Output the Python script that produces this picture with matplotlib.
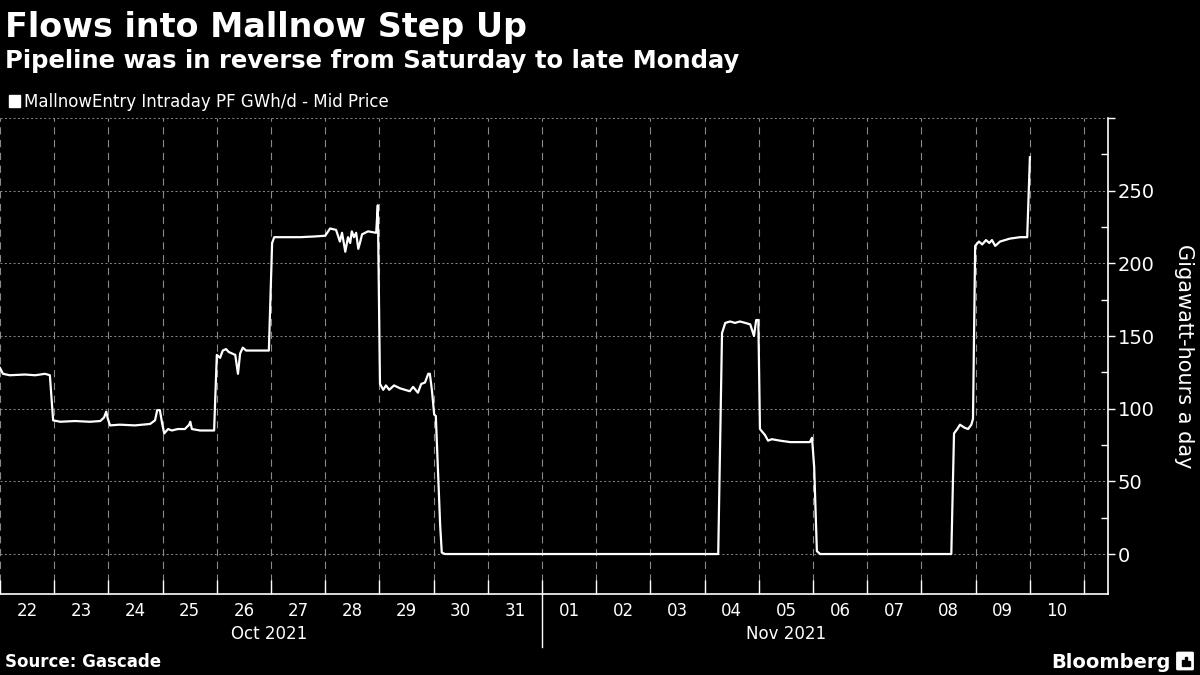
import matplotlib
matplotlib.use('Agg')
import matplotlib.pyplot as plt
import matplotlib.dates as mdates
from matplotlib.patches import Rectangle, FancyBboxPatch
import pandas as pd

# days since 22 Oct 2021 00:00 and flow in GWh/d
flow_days = [0.00, 0.055, 0.18, 0.46, 0.65, 0.83, 0.92, 0.98, 1.11, 1.38, 1.66, 1.85, 1.92, 1.96, 1.99,
             2.03, 2.21, 2.49, 2.77, 2.86, 2.90, 2.95, 2.99, 3.03, 3.10, 3.17, 3.28, 3.41, 3.49, 3.51,
             3.54, 3.69, 3.95, 4.00, 4.06, 4.11, 4.17, 4.22, 4.28, 4.34, 4.39, 4.43, 4.48, 4.54, 4.70,
             4.96, 5.02, 5.06, 5.26, 5.54, 5.81, 6.00, 6.09, 6.20, 6.27, 6.31, 6.37, 6.42, 6.46, 6.49,
             6.53, 6.57, 6.61, 6.64, 6.68, 6.79, 6.94, 6.97, 7.01, 7.07, 7.12, 7.18, 7.27, 7.38, 7.56,
             7.62, 7.71, 7.77, 7.84, 7.90, 7.93, 7.97, 8.01, 8.04, 8.12, 8.15, 8.21,
             13.25, 13.32, 13.38, 13.47, 13.56, 13.65, 13.75, 13.84, 13.91, 13.95, 13.99, 14.02, 14.11,
             14.17, 14.24, 14.39, 14.58, 14.76, 14.94, 14.98, 15.02, 15.07, 15.13,
             17.55, 17.60, 17.66, 17.71, 17.79, 17.86, 17.92, 17.95, 17.99, 18.06, 18.12, 18.19, 18.25,
             18.30, 18.36, 18.45, 18.63, 18.82, 18.95, 19.00]
flow_gwh = [128, 124, 123, 123.5, 123, 124, 123, 92, 91, 91.5, 91, 91.5, 94, 98, 93,
            88.5, 89, 88.5, 89.5, 92, 99, 99, 90, 83, 86, 85, 86, 86, 89, 91,
            86, 85, 85, 137, 135, 140, 141, 139, 138, 137, 124, 138, 142, 140, 140,
            140, 214, 218, 218, 218, 218.5, 219, 224, 223, 215, 221, 208, 218, 214, 222,
            218, 221, 210, 214, 220, 222, 221, 240, 117, 113, 116, 113, 116, 114, 112,
            115, 111, 117, 118, 124, 124, 112, 96, 95, 20, 1, 0,
            0, 152, 159, 160, 159, 160, 159, 158, 150, 161, 161, 86, 82,
            78, 79, 78, 77, 77, 77, 80, 60, 2, 0,
            0, 83, 86, 89, 87, 86, 89, 93, 212, 215, 213, 216, 214,
            216, 212, 215, 217, 218, 218, 273]

start = pd.Timestamp('2021-10-22')
times = start + pd.to_timedelta(flow_days, unit='D')
end = start + pd.Timedelta(days=20.44)
nov1 = pd.Timestamp('2021-11-01')

fig = plt.figure(figsize=(12, 6.75), dpi=100, facecolor='black')
ax = fig.add_axes([0, 0.12, 0.9233, 0.7052])
ax.set_facecolor('black')

ax.plot(times, flow_gwh, color='white', lw=1.6, zorder=3)

ax.set_xlim(start, end)
ax.set_ylim(-27.5, 300)

# y axis on the right
ax.yaxis.tick_right()
ax.set_yticks([0, 50, 100, 150, 200, 250, 300])
ax.set_yticklabels(['0', '50', '100', '150', '200', '250', ''])
ax.set_yticks([25, 75, 125, 175, 225, 275], minor=True)
ax.tick_params(axis='y', which='major', direction='out', length=5, width=1,
               color='white', labelcolor='white', labelsize=14, pad=2)
ax.tick_params(axis='y', which='minor', direction='in', length=5, width=1, color='white')
ax.yaxis.set_label_position('right')
ax.set_ylabel('Gigawatt-hours a day', color='white', fontsize=15, rotation=270, labelpad=28)

# x axis: day boundaries as ticks, day numbers at noon
ax.xaxis.set_major_locator(mdates.DayLocator())
ax.xaxis.set_major_formatter(plt.NullFormatter())
ax.xaxis.set_minor_locator(mdates.HourLocator(byhour=12))
ax.xaxis.set_minor_formatter(mdates.DateFormatter('%d'))
ax.tick_params(axis='x', which='major', direction='in', length=10, width=1, color='white')
ax.tick_params(axis='x', which='minor', length=0, labelcolor='white', labelsize=12, pad=6)

ax.grid(axis='x', which='major', color='#8a8a8a', linestyle=(0, (6.5, 5)), lw=0.8)
ax.grid(axis='y', which='major', color='#8a8a8a', linestyle=(0, (2, 2.5)), lw=0.7)

for side in ['left', 'top']:
    ax.spines[side].set_visible(False)
for side in ['right', 'bottom']:
    ax.spines[side].set_color('white')
    ax.spines[side].set_linewidth(1.2)

# month labels and separator
xt = ax.get_xaxis_transform()
ax.text(pd.Timestamp('2021-10-26 23:00'), -0.085, 'Oct 2021', transform=xt,
        ha='center', va='center', color='white', fontsize=12)
ax.text(pd.Timestamp('2021-11-05 12:00'), -0.085, 'Nov 2021', transform=xt,
        ha='center', va='center', color='white', fontsize=12)
ax.plot([nov1, nov1], [0, -0.112], transform=xt, color='white', lw=1, clip_on=False)

# titles and legend
fig.text(0.004, 1 - 37 / 675, 'Flows into Mallnow Step Up', color='white',
         fontsize=24, fontweight='bold', va='baseline')
fig.text(0.004, 1 - 68 / 675, 'Pipeline was in reverse from Saturday to late Monday',
         color='white', fontsize=17.5, fontweight='bold', va='baseline')
fig.patches.append(Rectangle((9 / 1200, 1 - 107 / 675), 11 / 1200, 12 / 675,
                             transform=fig.transFigure, color='white'))
fig.text(24 / 1200, 1 - 107 / 675, 'MallnowEntry Intraday PF GWh/d - Mid Price',
         color='white', fontsize=12, va='baseline')

# footer
fig.text(0.004, 1 - 667 / 675, 'Source: Gascade', color='white', fontsize=12,
         fontweight='bold', va='baseline')
fig.text(1171 / 1200, 1 - 668 / 675, 'Bloomberg', color='white', fontsize=14,
         fontweight='bold', va='baseline', ha='right')
fig.patches.append(FancyBboxPatch((1178 / 1200, 1 - 669 / 675), 14 / 1200, 16 / 675,
                                  boxstyle='round,pad=0.001', transform=fig.transFigure,
                                  color='white'))
for bx, bh in [(1182, 6), (1185, 9), (1188, 5)]:
    fig.patches.append(Rectangle((bx / 1200, 1 - 666 / 675), 1.6 / 1200, bh / 675,
                                 transform=fig.transFigure, color='black'))

fig.savefig('out.png', dpi=100, facecolor='black')
